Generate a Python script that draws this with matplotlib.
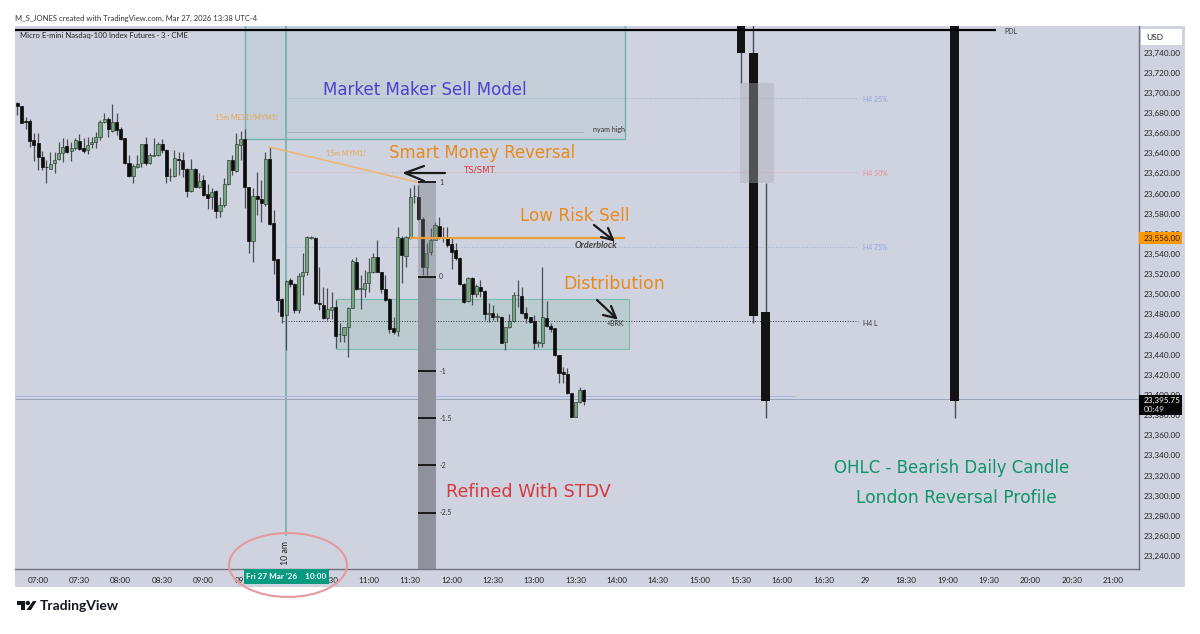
import numpy as np
import matplotlib
matplotlib.use('Agg')
import matplotlib.pyplot as plt
from matplotlib.lines import Line2D
from matplotlib.patches import Rectangle, Ellipse, Polygon

# 3 minute candles, prices are offsets from 23000, first candle at 06:45
BASE = 23000
opens = [689.6,687,671.5,672.3,653.2,649.8,636.6,626.5,624.4,630,
         634,640.6,647.2,642.6,644.9,652.5,645.5,643.2,649.2,650.8,
         656.5,670.7,673.7,662.4,671.4,663.7,654.8,630,617.4,626.7,
         630,649.2,630.6,637.2,638.3,649.2,643.2,617,617.4,634.6,
         633.3,624.4,602.8,624.4,606.8,613.4,599.5,596.2,602.8,583,
         588.6,609.5,633.3,622.7,648.2,653.8,606.8,553.2,597.5,594.2,
         589.6,634,570.4,534.7,494.9,479.3,514,510.1,484.3,518.1,
         522.4,555.8,556.1,491.6,489.3,476,484.3,487,460.2,459.5,
         467.8,486,532.3,505.5,505.2,510.8,521.7,536.6,522.4,504.8,
         494.9,466.1,463.4,556.1,538,555.5,597.2,596.8,574.3,526.7,
         542.2,553.8,567.7,555.8,555.5,549.5,543.9,535.6,509.8,493.6,
         515.7,499.9,506.8,503.5,480.7,481.6,477.4,477.7,452.8,467.1,
         473.7,498.9,498.2,481,477,473.4,451.6,451.2,476.7,468.4,
         466.1,439.6,422.4,420.4,402.2,378.4,392.6,404.9]
closes = [686.9,670,671,652.5,648.2,636.6,626,626,629.3,633.3,
          640.6,646.5,641.6,644.9,653.2,644.5,642.2,648.2,651.5,655.8,
          670.7,674,663.7,671.4,663,654.5,630,617.4,627.3,629.3,
          649.2,630,638.3,637.8,649.2,643.2,617.4,617.6,635.6,633.6,
          624.4,602.8,624.4,606.8,612.8,598.5,595.9,601.8,583,588.6,
          609.5,633.3,623.4,648.8,654.1,606.1,553.2,597.5,594.2,590.3,
          634.3,569.4,534,494.3,478.4,513.4,510.1,484.3,518,522.4,
          557.1,556.3,490.9,490.3,476,485,487,458.8,460.8,467.8,
          486,533,505.2,506,510.8,521.7,536.6,522.4,504.8,494.2,
          465.4,462.8,556.4,538.9,556.4,596.8,597.8,574.3,526.7,541.2,
          553.8,568.7,556.1,556.4,548.8,542.2,536.3,509.8,492.6,515.7,
          499.9,508.1,503.5,480.3,481.3,477,478,451.9,467.1,473.7,
          499.2,499.5,481,476,472.7,451.2,452.2,477,468.4,465.1,
          439.6,422,420.7,401.6,378.4,392.6,404.9,394.3]
highs = [691.2,687,675.7,673.7,660.4,660.4,642.6,633.3,641.6,641.6,
         651.5,654.8,653.8,651.5,655.5,659,654.8,656.5,656.5,661.4,
         673,680.3,675.7,688.6,679.6,665.7,655.5,638.3,629.3,638.3,
         649.2,656.5,639.9,654.8,651.5,653.8,643.9,625,643.2,641.6,
         641.6,625,634,625,620,618.4,609.5,605.2,603.5,596.9,
         615,633.3,638.3,659.8,662.4,663.7,606.8,605.2,621.7,613.4,
         641.6,646.5,583.6,534.7,495.9,514,515.7,510.8,521.4,540.6,
         557.8,557.8,556.4,527.3,507.5,505.8,502.5,494.2,471,467.8,
         487.6,535,536.6,519,524,535.6,540.6,553.8,522.4,519,
         495.9,477.7,567,557.8,557.8,605.1,608.4,608.4,576.3,550.5,
         565.4,572,577,567,567,557.1,550.5,537.3,510.8,516.7,
         516.7,510.1,514.1,504.2,491,489.3,481.6,478.3,467.8,480.3,
         502.5,514.1,507.5,487.6,477.7,479.3,454.5,527.3,493.6,471.7,
         466.1,439.6,428,426.4,402.2,393.3,407.5,405.5]
lows = [678,670,664,645.9,632.6,623.4,623.4,610,624.4,620,
        633.3,631.6,640,632.6,643.2,643.2,640,639.3,644.9,644.9,
        653.2,669.7,655.8,661.4,658.1,653.2,629.3,616,610.1,625,
        626.7,628.3,629.3,637.3,637.3,639.9,610.8,612.8,616.7,618.4,
        616.7,596.2,601.8,606.1,605.2,597.5,584.3,584.3,575.4,577,
        586.3,608.5,618.4,621.7,633.3,585.3,540.6,532.3,578.7,572.1,
        587.6,568.7,520.1,482.7,471.1,444.6,507.5,481,481,499.2,
        519,554.5,490.3,484.3,475,474.4,475,446.2,452.9,452.9,
        438,486,504.2,485,496.9,502.5,520.7,521.7,500.9,493.6,
        461.2,460.5,458.5,510.8,527.3,554.5,590.9,573.7,519,519,
        538.9,553.8,554.5,552.2,547.2,524.7,534,509.1,491.6,492.6,
        489.3,496.9,497.5,474.4,472.7,474.4,473.7,451.2,444.6,466.1,
        472.7,487.6,480.3,471,471,445.2,447.9,447.9,467.8,462.8,
        438.9,412.2,411.5,400.9,377.7,377.7,391.6,390]

# higher timeframe candles on the right, minutes after 07:00
htf_times = [510, 519, 528, 665]
htf_open = [23790, 23739, 23482.6, 23790]
htf_close = [23739, 23478, 23394, 23394]
htf_high = [23790, 23790, 23610, 23790]
htf_low = [23710, 23471, 23377, 23377]

price_ticks = list(range(23240, 23741, 20))
time_labels = ['07:00','07:30','08:00','08:30','09:00','09:30','10:00','10:30','11:00','11:30',
               '12:00','12:30','13:00','13:30','14:00','14:30','15:00','15:30','16:00','16:30',
               '29','18:30','19:00','19:30','20:00','20:30','21:00']

stdv_levels = [1, 0, -1, -1.5, -2, -2.5]
stdv_zero = 23517.4
stdv_step = 93.7

BG = '#cfd3df'
HAND = 'DejaVu Sans'
UI = 'Lato'


def fx(px):
    return px / 1200


def fy(py):
    return 1 - py / 634


fig = plt.figure(figsize=(12, 6.34), dpi=100, facecolor='white')
fig.add_artist(Rectangle((fx(15), fy(587)), fx(1185) - fx(15), fy(26) - fy(587), transform=fig.transFigure,
                         facecolor=BG, edgecolor='none', zorder=-5))

ax = fig.add_axes([fx(15), fy(569), fx(1139) - fx(15), fy(26) - fy(569)], zorder=1)
ax.set_facecolor(BG)
ax.set_xlim(-16.7, 798.8)
ax.set_ylim(23227.1, 23766.3)

ax.set_yticks(price_ticks)
ax.set_yticklabels([f'{p:,.2f}' for p in price_ticks], fontfamily=UI, fontsize=5.9, color='#222222')
ax.yaxis.tick_right()
ax.set_xticks(np.arange(len(time_labels)) * 30)
ax.set_xticklabels(time_labels, fontfamily=UI, fontsize=5.9, color='#222222')
ax.tick_params(axis='both', length=0)
ax.tick_params(axis='x', pad=5.5)
ax.tick_params(axis='y', pad=3.5)
for s in ['top', 'left']:
    ax.spines[s].set_visible(False)
for s in ['right', 'bottom']:
    ax.spines[s].set_color('#6f727c')
    ax.spines[s].set_linewidth(1.0)

# zones
ax.add_patch(Rectangle((150, 23653.6), 276, 130, facecolor='#5fa5a5', alpha=0.10, edgecolor='none', zorder=1))
ax.add_patch(Rectangle((150, 23653.6), 276, 130, fill=False, edgecolor='#6fb3ac', linewidth=1, zorder=1.1))
ax.add_patch(Rectangle((216, 23446), 213, 49, facecolor='#4ca27e', alpha=0.15, edgecolor='none', zorder=1))
ax.add_patch(Rectangle((216, 23446), 213, 49, fill=False, edgecolor='#7dbdb0', linewidth=0.9, zorder=1.1))
ax.vlines(180, 23260, 23790, color='#67aca6', linewidth=1.1, zorder=1.2)

# level lines
ax.hlines(23762.3, -16.7, 695, color='#000000', linewidth=1.6, zorder=5)
ax.hlines(23695, 180, 595, color='#9fb0d8', linewidth=0.7, linestyles=':', zorder=1.3)
ax.hlines(23621.5, 180, 595, color='#d8a6ac', linewidth=0.7, linestyles=':', zorder=1.3)
ax.hlines(23547, 180, 595, color='#9fb0d8', linewidth=0.7, linestyles=':', zorder=1.3)
ax.hlines(23473.5, 178, 595, color='#333333', linewidth=0.7, linestyles=':', zorder=1.3)
ax.hlines(23395.75, -16.7, 798.8, color='#9aa3bd', linewidth=0.7, zorder=1.3)
ax.hlines(23399, -16.7, 549, color='#a6b4dd', linewidth=0.7, zorder=1.3)
ax.hlines(23661, 180, 396, color='#a9b3ba', linewidth=0.7, zorder=1.3)
ax.hlines(23556, 270, 426, color='#e9a03c', linewidth=1.6, zorder=6)
ax.plot([168, 276], [23646, 23611], color='#edb56f', linewidth=1.1, zorder=4)

# candles
times = np.arange(len(opens)) * 3 - 15
o = BASE + np.array(opens)
c = BASE + np.array(closes)
h = BASE + np.array(highs)
l = BASE + np.array(lows)
up = c >= o
ax.vlines(times, l, h, color='#4a4d54', linewidth=0.9, zorder=3)
ax.bar(times[up], (c - o)[up], bottom=o[up], width=2.3, color='#74a67f', edgecolor='#2a3a2e', linewidth=0.45, zorder=3.2)
ax.bar(times[~up], (c - o)[~up], bottom=o[~up], width=2.2, color='#0d0d0d', edgecolor='#0d0d0d', linewidth=0.5, zorder=3.2)

ax.vlines(htf_times, htf_low, htf_high, color='#4a4d54', linewidth=1.0, zorder=3)
ax.bar(htf_times, np.array(htf_close) - np.array(htf_open), bottom=htf_open, width=6.4, color='#131313', zorder=3.2)
ax.add_patch(Rectangle((509, 23610), 25, 100, facecolor='#a9abb3', alpha=0.42, edgecolor='none', zorder=3.5))

# stdv column
ax.add_patch(Rectangle((276, stdv_zero), 12.5, stdv_step, facecolor='#6d6f78', alpha=0.38, edgecolor='none', zorder=3.6))
ax.add_patch(Rectangle((276, 23227.1), 12.5, stdv_zero - 23227.1, facecolor='#8f929c', edgecolor='none', zorder=1.5))
for lv in stdv_levels:
    y = stdv_zero + lv * stdv_step
    ax.hlines(y, 275.5, 289, color='#111111', linewidth=1.3, zorder=4)
    ax.text(291, y, f'{lv:g}', fontfamily=UI, fontsize=5, color='#333333', va='center', zorder=5)

# date tag over the time axis
ax.add_patch(Rectangle((149.8, 23212), 61, 15.1, facecolor='#089981', edgecolor='none', clip_on=False, zorder=9))
ax.text(180, 23219.5, "Fri 27 Mar '26    10:00", fontfamily=UI, fontsize=5.9, color='white', fontweight='bold',
        ha='center', va='center', zorder=10, clip_on=False)

# header, footer
fig.text(fx(15), fy(18), 'M_S_JONES created with TradingView.com, Mar 27, 2026 13:38 UTC-4', fontfamily=UI, fontsize=5.5,
         color='#333333', va='center')
fig.text(fx(20), fy(35.5), 'Micro E-mini Nasdaq-100 Index Futures · 3 · CME', fontfamily=UI, fontsize=5.5, color='#222222',
         va='center', zorder=8)
fig.text(fx(40), fy(606), 'TradingView', fontfamily=UI, fontsize=10, fontweight='bold', color='#131722', va='center')
for art in [Polygon([(fx(16.5), fy(601)), (fx(25), fy(601)), (fx(25), fy(610)), (fx(20.5), fy(610)), (fx(20.5), fy(605)), (fx(16.5), fy(605))]),
            Polygon([(fx(33), fy(601)), (fx(36.5), fy(601)), (fx(31), fy(610)), (fx(26.5), fy(610))])]:
    art.set_transform(fig.transFigure)
    art.set_facecolor('#131722')
    art.set_edgecolor('none')
    fig.add_artist(art)
fig.add_artist(Ellipse((fx(27.8), fy(603)), 4.4 / 1200, 4.4 / 634, transform=fig.transFigure, facecolor='#131722', edgecolor='none'))

# price axis tags
fig.add_artist(Rectangle((fx(1141), fy(45)), 41 / 1200, 16 / 634, transform=fig.transFigure, facecolor='white', edgecolor='none', zorder=6))
fig.text(fx(1146), fy(37.5), 'USD', fontfamily=UI, fontsize=6, color='#222222', va='center', zorder=7)
fig.add_artist(Rectangle((fx(1139), fy(244)), 43 / 1200, 12 / 634, transform=fig.transFigure, facecolor='#ff9800', edgecolor='none', zorder=6))
fig.text(fx(1144), fy(238), '23,556.00', fontfamily=UI, fontsize=5.9, color='#222222', va='center', zorder=7)
fig.add_artist(Rectangle((fx(1139), fy(414.5)), 43 / 1200, 19.5 / 634, transform=fig.transFigure, facecolor='#050505', edgecolor='none', zorder=6))
fig.text(fx(1144), fy(400), '23,395.75', fontfamily=UI, fontsize=5.9, color='white', va='center', zorder=7)
fig.text(fx(1144), fy(409), '00:49', fontfamily=UI, fontsize=5.9, color='#dddddd', va='center', zorder=7)

# small labels
small = [(215, 118, '15m MES1!/MYM1!', '#e8a84f'), (326, 153, '15m MYM1!', '#e8a84f'), (593, 129, 'nyam high', '#333333'),
         (1004, 31, 'PDL', '#333333'), (863, 99.5, 'H4 25%', '#8fa4e0'), (863, 173.5, 'H4 50%', '#e58f95'),
         (863, 248, 'H4 75%', '#8fa4e0'), (863, 323, 'H4 L', '#333333'), (607, 323, '+BRK', '#333333')]
for x, y, txt, col in small:
    fig.text(fx(x), fy(y), txt, fontfamily=UI, fontsize=5, color=col, va='center', zorder=8)
fig.text(fx(575), fy(245), 'Orderblock', fontfamily=UI, fontsize=6.5, fontstyle='italic', fontweight='bold', color='#444444', va='center', zorder=8)
fig.text(fx(464), fy(170), 'TS/SMT', fontfamily=HAND, fontsize=6.2, color='#d8393f', va='center', zorder=8)
fig.text(fx(286), fy(553), '10 am', fontfamily=UI, fontsize=6.3, color='#222222', rotation=90, ha='center', va='center', zorder=8)

# handwritten notes
notes = [(323, 90, 'Market Maker Sell Model', '#4f3fd0', 12), (389, 153, 'Smart Money Reversal', '#e88a1e', 11.9),
         (520, 216, 'Low Risk Sell', '#e88a1e', 12.2), (563, 284, 'Distribution', '#e88a1e', 12.5),
         (446, 492, 'Refined With STDV', '#d8393f', 12.6), (834, 468, 'OHLC - Bearish Daily Candle', '#0f9468', 12),
         (856, 498, 'London Reversal Profile', '#0f9468', 12.3)]
for x, y, txt, col, size in notes:
    fig.text(fx(x), fy(y), txt, fontfamily=HAND, fontsize=size, color=col, va='center', zorder=8)

# hand drawn arrows and the circle
arrows = [[(445, 173), (405, 173)], [(405, 173), (424, 166)], [(405, 173), (424, 181)],
          [(594, 225), (613, 240)], [(613, 240), (608, 228)], [(613, 240), (601, 237)],
          [(597, 300), (616, 318)], [(616, 318), (611, 306)], [(616, 318), (603, 315)]]
for a, b in arrows:
    fig.add_artist(Line2D([fx(a[0]), fx(b[0])], [fy(a[1]), fy(b[1])], transform=fig.transFigure, color='#1a1a1a',
                          linewidth=1.6, solid_capstyle='round', zorder=8))
fig.add_artist(Ellipse((fx(288), fy(565)), 118 / 1200, 64 / 634, transform=fig.transFigure, fill=False,
                       edgecolor='#e59a9d', linewidth=1.5, zorder=9))

fig.savefig('out.png', dpi=100)
